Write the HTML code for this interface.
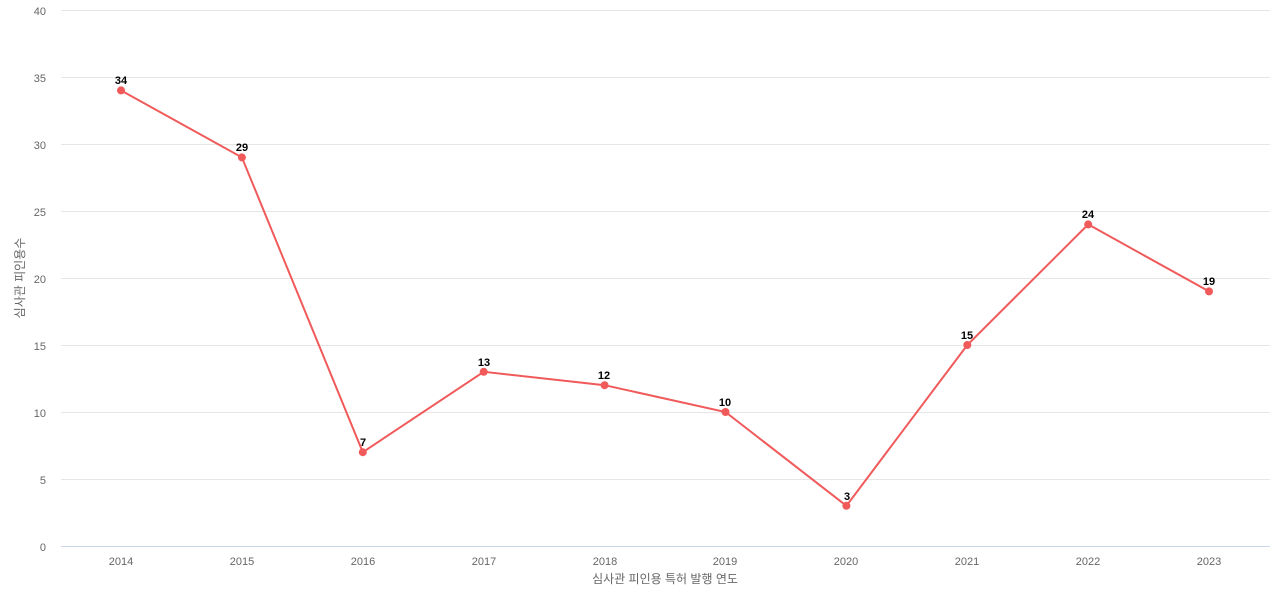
<!DOCTYPE html>
<html><head><meta charset="utf-8"><style>body{margin:0;background:#fff}svg{display:block}</style></head><body>
<svg width="1280" height="600" xmlns="http://www.w3.org/2000/svg" font-family="Liberation Sans, Noto Sans CJK KR, sans-serif">
<g stroke="#e6e6e6" stroke-width="1">
<line x1="61" x2="1270" y1="10.5" y2="10.5"/><line x1="61" x2="1270" y1="77.5" y2="77.5"/><line x1="61" x2="1270" y1="144.5" y2="144.5"/><line x1="61" x2="1270" y1="211.5" y2="211.5"/><line x1="61" x2="1270" y1="278.5" y2="278.5"/><line x1="61" x2="1270" y1="345.5" y2="345.5"/><line x1="61" x2="1270" y1="412.5" y2="412.5"/><line x1="61" x2="1270" y1="479.5" y2="479.5"/>
</g>
<line x1="61" x2="1270" y1="546.5" y2="546.5" stroke="#ccd6eb"/>
<g fill="#666" font-size="11" text-anchor="end">
<text x="46" y="15">40</text><text x="46" y="82">35</text><text x="46" y="149">30</text><text x="46" y="216">25</text><text x="46" y="283">20</text><text x="46" y="350">15</text><text x="46" y="417">10</text><text x="46" y="484">5</text><text x="46" y="551">0</text>
</g>
<g fill="#666" font-size="11" text-anchor="middle">
<text x="121" y="565">2014</text><text x="242" y="565">2015</text><text x="363" y="565">2016</text><text x="484" y="565">2017</text><text x="605" y="565">2018</text><text x="725" y="565">2019</text><text x="846" y="565">2020</text><text x="967" y="565">2021</text><text x="1088" y="565">2022</text><text x="1209" y="565">2023</text>
</g>
<text x="665" y="583" fill="#666" font-size="12" text-anchor="middle">심사관 피인용 특허 발행 연도</text>
<text transform="translate(24,278) rotate(-90)" fill="#666" font-size="12" text-anchor="middle">심사관 피인용수</text>
<polyline fill="none" stroke="#f05a5a" stroke-width="2" points="121,90.4 241.9,157.4 362.8,452.2 483.7,371.8 604.6,385.2 725.5,412 846.4,505.8 967.3,345 1088.2,224.4 1209,291.4"/>
<g fill="#f05a5a">
<circle cx="121" cy="90.4" r="4"/><circle cx="241.9" cy="157.4" r="4"/><circle cx="362.8" cy="452.2" r="4"/><circle cx="483.7" cy="371.8" r="4"/><circle cx="604.6" cy="385.2" r="4"/><circle cx="725.5" cy="412" r="4"/><circle cx="846.4" cy="505.8" r="4"/><circle cx="967.3" cy="345" r="4"/><circle cx="1088.2" cy="224.4" r="4"/><circle cx="1209" cy="291.4" r="4"/>
</g>
<g fill="#000" font-size="11" font-weight="bold" text-anchor="middle">
<text x="121" y="84">34</text><text x="242" y="151">29</text><text x="363" y="446">7</text><text x="484" y="366">13</text><text x="604" y="379">12</text><text x="725" y="406">10</text><text x="847" y="500">3</text><text x="967" y="339">15</text><text x="1088" y="218">24</text><text x="1209" y="285">19</text>
</g>
</svg>
</body></html>
